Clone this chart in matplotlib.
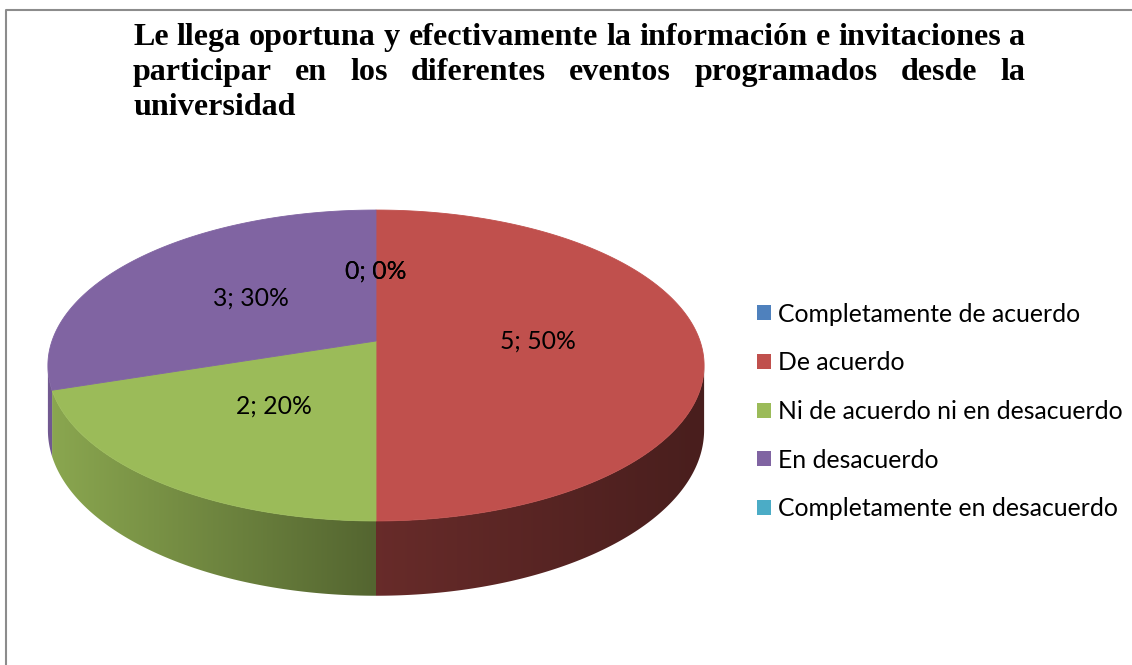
import numpy as np
import matplotlib.pyplot as plt
from matplotlib.patches import Polygon, Patch
from matplotlib.colors import to_rgb

# data
categories = ["Completamente de acuerdo", "De acuerdo", "Ni de acuerdo ni en desacuerdo",
              "En desacuerdo", "Completamente en desacuerdo"]
counts = [0, 5, 2, 3, 0]
colors = ["#4F81BD", "#C0504D", "#9BBB59", "#8064A2", "#4BACC6"]
title_lines = ["Le llega oportuna y efectivamente la información e invitaciones a",
               "participar en los diferentes eventos programados desde la",
               "universidad"]

W, H = 1132, 665
fig = plt.figure(figsize=(W / 100, H / 100), dpi=100)
ax = fig.add_axes([0, 0, 1, 1])
ax.set_xlim(0, W)
ax.set_ylim(H, 0)
ax.axis('off')

# frame of the chart area
ax.plot([6, 6, W], [H, 10, 10], color='#8c8c8c', lw=1.5, solid_capstyle='butt')

# 3D pie geometry (pixels)
cx, cy = 376, 341
rx, ry = 324, 151.6
persp = 0.1576
depth = 63


def project(u, v, drop=0.0):
    s = 1.0 / (1.0 + persp * v)
    return cx + rx * u * s, cy + (-ry * v + drop) * s


def shade_factor(c):
    return np.where(c < 0, 0.54 - 0.35 * c, 0.54 - 0.16 * c)


total = sum(counts)
spans = []
start = 90.0
for c in counts:
    sweep = 360.0 * c / total
    spans.append((start, start - sweep))
    start -= sweep

# visible (front) part of the side wall: between left and right silhouettes
tt = np.linspace(0, -180, 3601)
xs = np.array([project(np.cos(np.radians(t)), np.sin(np.radians(t)))[0] for t in tt])
t_right, t_left = tt[np.argmax(xs)], tt[np.argmin(xs)]

xcols = np.arange(0, W)
cgrid = np.clip((xcols - cx) / rx, -1, 1)
fgrid = shade_factor(cgrid)

for (a0, a1), col in zip(spans, colors):
    hi, lo = min(a0, t_right), max(a1, t_left)
    if hi <= lo:
        continue
    ts = np.radians(np.linspace(hi, lo, 200))
    top = [project(np.cos(t), np.sin(t)) for t in ts]
    bot = [project(np.cos(t), np.sin(t), depth) for t in ts[::-1]]
    poly = Polygon(top + bot, closed=True, facecolor='none', edgecolor='none')
    ax.add_patch(poly)
    img = np.clip(np.array(to_rgb(col))[None, None, :] * fgrid[None, :, None], 0, 1)
    im = ax.imshow(img, extent=(0, W, H, 0), aspect='auto', interpolation='bilinear', zorder=1)
    im.set_clip_path(poly)

# top faces
for (a0, a1), col in zip(spans, colors):
    if a0 == a1:
        continue
    ts = np.radians(np.linspace(a0, a1, int(abs(a0 - a1) * 2) + 2))
    pts = [project(0, 0)] + [project(np.cos(t), np.sin(t)) for t in ts]
    ax.add_patch(Polygon(pts, closed=True, facecolor=col, edgecolor=col, lw=0.6, zorder=2))

# data labels
label_font = 'Lato'
fs = 17.8
for (a0, a1), c in zip(spans, counts):
    tm = np.radians(0.5 * (a0 + a1))
    x, y = project(0.5 * np.cos(tm), 0.5 * np.sin(tm))
    ax.text(x, y, f"{c}; {round(100 * c / total)}%", ha='center', va='center',
            fontsize=fs, family=label_font, color='black', zorder=3)

# legend
handles = [Patch(facecolor=c, edgecolor='none') for c in colors]
fig.legend(handles, categories, loc='upper left', bbox_to_anchor=(757 / W, 1 - 302.5 / H),
           frameon=False, prop={'family': label_font, 'size': fs},
           handlelength=0.56, handleheight=0.56, handletextpad=0.28,
           labelspacing=1.04, borderpad=0, borderaxespad=0)

# justified title
tx0, tx1 = 133, 1025
baselines = [45, 80, 115]
renderer = fig.canvas.get_renderer()
probe = ax.text(0, 0, title_lines[0], family='Liberation Serif', weight='bold', fontsize=20)
tsize = 20 * (tx1 - tx0) / probe.get_window_extent(renderer).width
probe.remove()
tprops = dict(family='Liberation Serif', weight='bold', fontsize=tsize, va='baseline', ha='left')
for i, (line, yb) in enumerate(zip(title_lines, baselines)):
    if i == len(title_lines) - 1:
        ax.text(tx0, yb, line, **tprops)
        continue
    words = line.split(' ')
    arts = [ax.text(0, yb, w, **tprops) for w in words]
    widths = [a.get_window_extent(renderer).width for a in arts]
    gap = (tx1 - tx0 - sum(widths)) / (len(words) - 1)
    x = tx0
    for a, w in zip(arts, widths):
        a.set_x(x)
        x += w + gap

fig.savefig('out.png', dpi=100)
